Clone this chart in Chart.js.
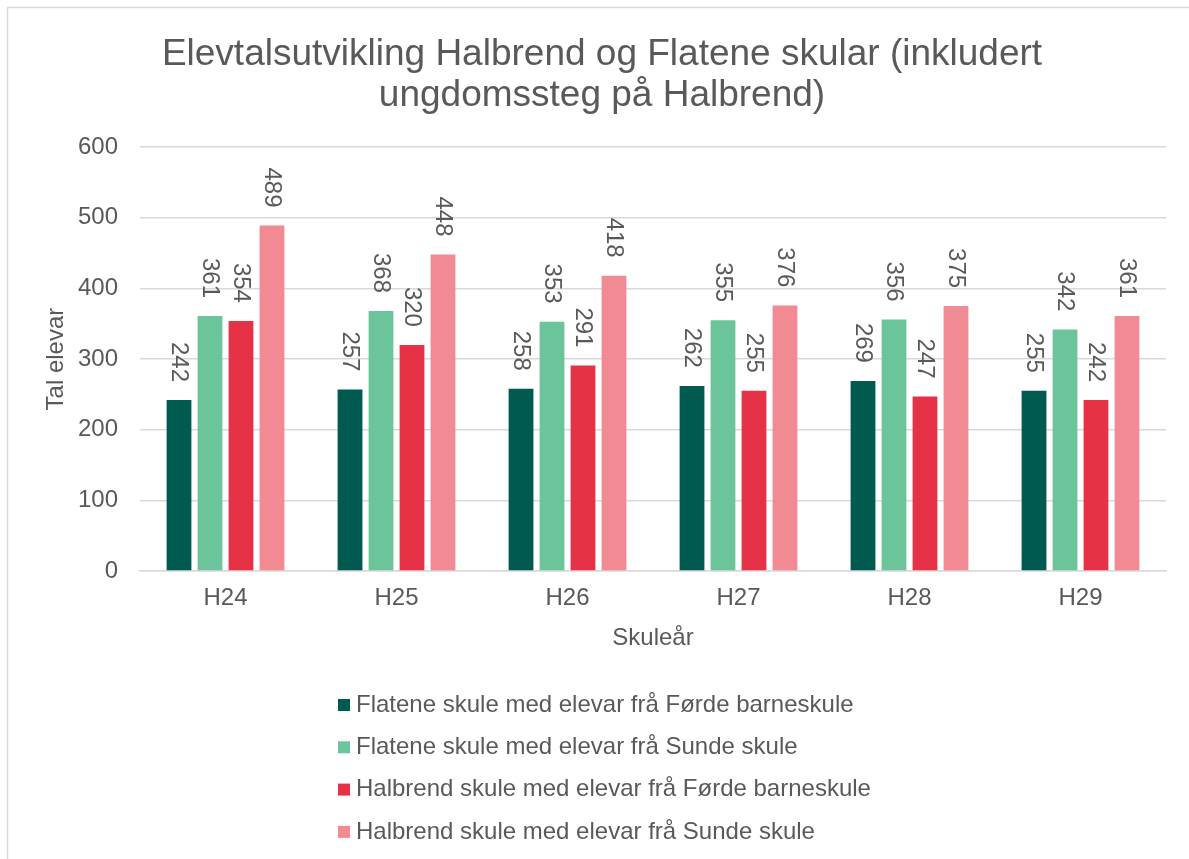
<!DOCTYPE html>
<html>
<head>
<meta charset="utf-8">
<script src="https://cdn.jsdelivr.net/npm/chart.js@4/dist/chart.umd.min.js"></script>
<style>
  html, body { margin: 0; padding: 0; background: #fff; }
  #wrap { position: absolute; left: 0; top: 0; width: 1189px; height: 859px; }
</style>
</head>
<body>
<div id="wrap"><canvas id="chart"></canvas></div>
<script>
const years = ["H24", "H25", "H26", "H27", "H28", "H29"];
const seriesNames = [
  "Flatene skule med elevar frå Førde barneskule",
  "Flatene skule med elevar frå Sunde skule",
  "Halbrend skule med elevar frå Førde barneskule",
  "Halbrend skule med elevar frå Sunde skule"
];
const flateneForde = [242, 257, 258, 262, 269, 255];
const flateneSunde = [361, 368, 353, 355, 356, 342];
const halbrendForde = [354, 320, 291, 255, 247, 242];
const halbrendSunde = [489, 448, 418, 376, 375, 361];
const yTicks = [0, 100, 200, 300, 400, 500, 600];
const titleLines = ["Elevtalsutvikling Halbrend og Flatene skular (inkludert", "ungdomssteg på Halbrend)"];
const colors = ["#005A50", "#6CC49A", "#E63246", "#F28A94"];
const textColor = "#595959";
const fontFamily = "'Liberation Sans', Arial, sans-serif";

// rotated value labels above each bar
const barLabels = {
  id: "barLabels",
  afterDatasetsDraw(chart) {
    const ctx = chart.ctx;
    ctx.save();
    ctx.fillStyle = textColor;
    ctx.font = "24px " + fontFamily;
    ctx.textAlign = "right";
    ctx.textBaseline = "middle";
    chart.data.datasets.forEach((ds, i) => {
      chart.getDatasetMeta(i).data.forEach((bar, j) => {
        ctx.save();
        ctx.translate(bar.x, bar.y - 18);
        ctx.rotate(Math.PI / 2);
        ctx.fillText(String(ds.data[j]), 0, 0);
        ctx.restore();
      });
    });
    ctx.restore();
  }
};

// frame, title text and vertical legend
const frameLegend = {
  id: "frameLegend",
  beforeDraw(chart) {
    const ctx = chart.ctx;
    ctx.save();
    ctx.fillStyle = "#fff";
    ctx.fillRect(0, 0, chart.width, chart.height);
    ctx.strokeStyle = "#d9d9d9";
    ctx.lineWidth = 1.5;
    ctx.beginPath();
    ctx.moveTo(7.5, chart.height + 5);
    ctx.lineTo(7.5, 7.5);
    ctx.lineTo(chart.width + 5, 7.5);
    ctx.stroke();
    ctx.restore();
  },
  afterDraw(chart) {
    const ctx = chart.ctx;
    ctx.save();
    // title (the built-in title only reserves the space)
    ctx.fillStyle = textColor;
    ctx.font = "37px " + fontFamily;
    ctx.textAlign = "center";
    ctx.textBaseline = "middle";
    titleLines.forEach((t, i) => ctx.fillText(t, 602, 54.5 + i * 41));

    ctx.font = "24px " + fontFamily;
    ctx.textAlign = "left";
    chart.data.datasets.forEach((ds, i) => {
      const y = 705 + i * 42.3;
      ctx.fillStyle = ds.backgroundColor;
      ctx.fillRect(338, y - 6, 12, 12);
      ctx.fillStyle = textColor;
      ctx.fillText(ds.label, 356, y);
    });
    ctx.restore();
  }
};

const seriesData = [flateneForde, flateneSunde, halbrendForde, halbrendSunde];

new Chart(document.getElementById("chart"), {
  type: "bar",
  data: {
    labels: years,
    datasets: seriesData.map((d, i) => ({
      label: seriesNames[i],
      data: d,
      backgroundColor: colors[i],
      categoryPercentage: 0.725,
      barPercentage: 0.8
    }))
  },
  options: {
    responsive: true,
    maintainAspectRatio: false,
    animation: false,
    layout: { padding: { left: 20, right: 23, top: 0, bottom: 198 } },
    plugins: {
      legend: { display: false },
      tooltip: { enabled: false },
      title: {
        display: true,
        text: titleLines,
        color: "rgba(0,0,0,0)",
        font: { family: fontFamily, size: 37, weight: "normal", lineHeight: 1.11 },
        padding: { top: 34, bottom: 31 }
      }
    },
    scales: {
      x: {
        grid: { display: false },
        border: { color: "#d9d9d9", width: 1.5 },
        ticks: { color: textColor, font: { family: fontFamily, size: 24 }, padding: 5 },
        title: {
          display: true,
          text: "Skuleår",
          color: textColor,
          font: { family: fontFamily, size: 24 },
          padding: { top: 8, bottom: 8 }
        },
        afterFit(scale) { scale.height = 90; }
      },
      y: {
        min: 0,
        max: 600,
        afterBuildTicks(scale) { scale.ticks = yTicks.map(v => ({ value: v })); },
        grid: { color: "#d9d9d9", lineWidth: 1.5, drawTicks: false },
        border: { display: false },
        ticks: { color: textColor, font: { family: fontFamily, size: 24 }, padding: 22 },
        title: {
          display: true,
          text: "Tal elevar",
          color: textColor,
          font: { family: fontFamily, size: 24 },
          padding: { top: 22, bottom: 0 }
        },
        afterFit(scale) { scale.width = 120; }
      }
    }
  },
  plugins: [barLabels, frameLegend]
});
</script>
</body>
</html>
